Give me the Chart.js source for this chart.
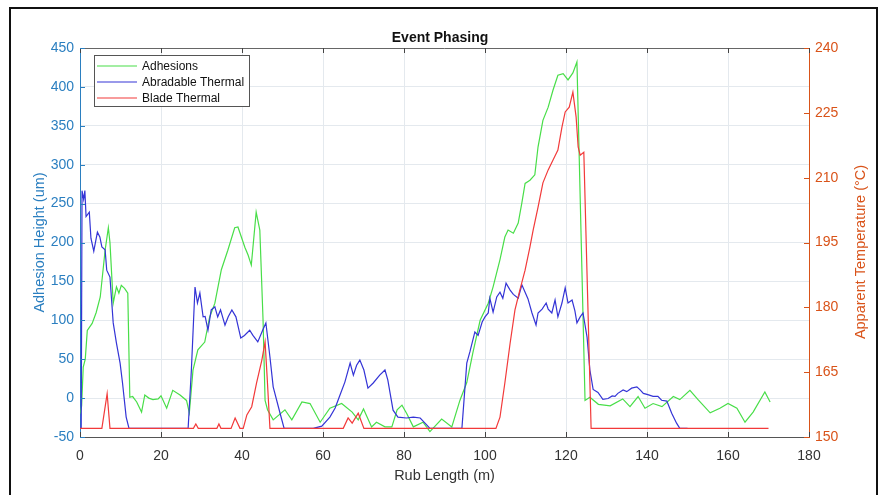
<!DOCTYPE html>
<html>
<head>
<meta charset="utf-8">
<script src="https://cdn.jsdelivr.net/npm/chart.js@4.4.1/dist/chart.umd.min.js"></script>
<style>
  body { margin: 0; background: #fff; }
  #wrap { position: relative; width: 880px; height: 495px; overflow: hidden; }
  #frame { position: absolute; left: 9px; top: 7px; width: 869px; height: 520px;
           border: 2px solid #111; box-sizing: border-box; pointer-events: none; }
</style>
</head>
<body>
<div id="wrap">
  <canvas id="grafico"></canvas>
  <div id="frame"></div>
</div>
<script>
// Datos
// Adhesions (um, eje izquierdo)
const adhX = [0, 0.4, 0.8, 1.3, 1.8, 3, 4, 5, 6.2, 7, 7.4, 8.2, 9, 9.6, 10.2, 11, 11.8, 12.3, 13, 14,
  15.2, 16, 17, 18, 19.3, 20, 21.4, 22.9, 24.7, 26.3, 27, 27.9, 29.1, 30.8, 32, 33.3, 34.9, 36.5, 38.2, 39,
  40.7, 41.5, 42.3, 43.5, 44.4, 45.2, 45.7, 46.3, 47.7, 50.6, 52.3, 54.8, 56.8, 59.3, 61.7, 64.6, 67.2, 68.7, 70, 72,
  73.2, 75.3, 77, 78.3, 79.5, 80.7, 82.3, 84.7, 86.4, 89.3, 91.8, 93.8, 95.5, 97, 98.8, 100.8, 102, 103.7, 104.9, 105.7,
  107, 108.2, 109.1, 109.9, 111.1, 112.3, 113.1, 114.3, 115.6, 116.8, 118, 119.3, 120.5, 121.7, 122.7, 124.7, 125.9, 128, 130.9, 134,
  135.8, 137.8, 139.5, 141.5, 143.7, 146.5, 148.1, 150.6, 152.6, 155.6, 158, 160, 162.2, 164.2, 166.2, 169.1, 170.4];
const adhY = [-20, -10, 40, 50, 87, 96, 110, 130, 190, 219, 200, 122, 143, 135, 145, 141, 135, 1, 2, -5,
  -18, 4, 0, -2, -1, 3, -13, 10, 4, -3, -19, 36, 62, 72, 104, 122, 165, 190, 219, 220,
  194, 184, 171, 239, 216, 100, -3, -15, -28, -15, -28, -5, -7, -31, -13, -7, -18, -28, -14, -37,
  -31, -37, -37, -15, -9, -20, -37, -31, -43, -27, -37, -3, 20, 58, 100, 122, 143, 178, 207, 216,
  212, 225, 251, 276, 280, 287, 323, 357, 374, 396, 415, 417, 409, 418, 432, -3, 1, -8, -10, -1,
  -11, 2, -13, -7, -11, 2, -2, 10, -2, -19, -13, -7, -13, -31, -18, 8, -5];

// Abradable Thermal (°C, eje derecho)
const abrX = [0, 0.3, 0.5, 0.9, 1.2, 1.5, 2.3, 2.7, 3.4, 4.3, 4.9, 5.4, 6.2, 6.6, 7.4, 8.2, 9, 9.9, 10.5, 11.4,
  12.1, 26.7, 27.5, 28.4, 29, 29.6, 30.4, 30.9, 31.6, 32.4, 33.3, 34, 34.7, 35.8, 36.6, 37.5, 38.5, 39.7, 40.6, 41.9,
  42.7, 43.9, 45.1, 45.9, 46.9, 47.7, 49.4, 50.4, 57.6, 59.7, 61.7, 63, 64.2, 65.4, 66.7, 67.5, 68.3, 69.1, 70.1, 71.1,
  72.4, 74, 75.3, 76, 77.3, 78.5, 80.6, 82.3, 84, 85.6, 86.4, 94.3, 95.5, 96.3, 97.5, 98.3, 99.3, 100, 100.8, 101.2,
  102, 102.9, 103.7, 104.4, 105.2, 106.2, 107, 108.2, 109.1, 109.9, 110.6, 111.6, 112.6, 113.1, 114.1, 115.1, 115.6, 116.5, 117.3, 118,
  119, 119.8, 120.5, 121.5, 122.2, 122.7, 123.5, 124.2, 125.2, 125.9, 126.7, 127.9, 129.1, 130.4, 131.4, 132.1, 132.8, 134.1, 135, 136.2,
  137.5, 138.3, 139.1, 140.2, 141.5, 142.7, 143.6, 144.9, 146.1, 147.3, 148.1, 150];
const abrY = [152, 152, 207, 205, 207, 201, 202, 196, 193, 197.4, 196.3, 194, 193.3, 188.6, 187, 176.4, 171.7, 167.1, 162.5, 154.6,
  152, 152, 165.5, 184.7, 181, 183.3, 177.8, 177.9, 174.7, 179.4, 180.1, 177.8, 179.4, 175.9, 177.8, 179.4, 177.8, 172.9, 173.5, 174.7,
  173.5, 172, 174.7, 176.4, 168.5, 161.6, 155.5, 152, 152, 152.5, 154.6, 156.7, 159.7, 162.7, 167.1, 164.3, 166.6, 167.8, 165.5, 161.3,
  162.5, 164.3, 165.5, 163.2, 156.2, 154.6, 154.4, 154.6, 154.4, 152.8, 152, 152, 167.1, 169.8, 174.3, 173.5, 176.6, 177.8, 178.7, 182.1,
  178.9, 182.4, 183.5, 182.1, 185.6, 184, 183, 182.1, 185.2, 183.5, 182, 178.7, 175.9, 178.7, 179.6, 181, 179.6, 178.7, 181.7, 177.8,
  181, 184.5, 181, 181.7, 179.2, 176.4, 177.8, 178.7, 173.1, 165.5, 161, 160.3, 158.7, 158.9, 159.5, 159.4, 160.1, 160.9, 160.5, 161.3,
  161.6, 160.9, 160.1, 159.8, 159.4, 159.4, 158.5, 158.3, 155.5, 153.2, 152, 152];

// Blade Thermal (°C, eje derecho)
const bldX = [0, 5.4, 6.7, 7.4, 28, 28.6, 29.2, 33.8, 34.3, 34.8, 37.3, 38.3, 39.5, 40.3, 41.2, 42.4, 43.6, 44.9, 45.7, 46.2,
  46.9, 65, 66.2, 67.2, 68.7, 70.1, 102.7, 103.7, 104.9, 106.2, 107.4, 108.6, 109.9, 111.1, 111.9, 113.1, 114.3, 115.6, 116.8, 118,
  119, 119.8, 120.8, 121.7, 122.5, 123, 123.5, 124.4, 126.2, 170];
const bldY = [152, 152, 160, 152, 152, 153, 152, 152, 153, 152, 152, 154.4, 152, 152, 155.1, 157, 162.5, 167.8, 172, 164,
  152, 152, 154.4, 153.2, 155.5, 152, 152, 154.6, 162.5, 171.7, 179.4, 184, 188.6, 194, 197.9, 203.2, 208.8, 211.8, 214.1, 216.4,
  221.7, 225.2, 226.3, 229.8, 224, 217.1, 215.2, 215.9, 152, 152];

// Ejes
const xTicks = [0, 20, 40, 60, 80, 100, 120, 140, 160, 180];
const leftTicks = [-50, 0, 50, 100, 150, 200, 250, 300, 350, 400, 450];
const rightTicks = [150, 165, 180, 195, 210, 225, 240];

const colorIzq = '#2B7FC0';
const colorDer = '#D95319';
const fuente = '"Liberation Sans", Arial, Helvetica, sans-serif';

function puntos(xs, ys) {
  return xs.map((x, i) => ({ x: x, y: ys[i] }));
}

// Plugin: marco superior, marcas interiores, leyenda y titulo derecho
const extras = {
  id: 'extras',
  afterDraw(chart) {
    const ctx = chart.ctx;
    const a = chart.chartArea;
    const sx = chart.scales.x, sy = chart.scales.y, sy1 = chart.scales.y1;
    ctx.save();
    // linea superior
    ctx.strokeStyle = '#666';
    ctx.lineWidth = 1;
    ctx.beginPath();
    ctx.moveTo(a.left, a.top + 0.5);
    ctx.lineTo(a.right, a.top + 0.5);
    ctx.stroke();
    // marcas hacia dentro
    ctx.strokeStyle = '#444';
    xTicks.forEach(t => {
      const px = Math.round(sx.getPixelForValue(t)) + 0.5;
      ctx.beginPath();
      ctx.moveTo(px, a.bottom); ctx.lineTo(px, a.bottom - 5);
      ctx.moveTo(px, a.top); ctx.lineTo(px, a.top + 5);
      ctx.stroke();
    });
    ctx.strokeStyle = colorIzq;
    leftTicks.forEach(t => {
      const py = Math.round(sy.getPixelForValue(t)) + 0.5;
      ctx.beginPath(); ctx.moveTo(a.left, py); ctx.lineTo(a.left + 5, py); ctx.stroke();
    });
    ctx.strokeStyle = colorDer;
    rightTicks.forEach(t => {
      const py = Math.round(sy1.getPixelForValue(t)) + 0.5;
      ctx.beginPath(); ctx.moveTo(a.right, py); ctx.lineTo(a.right - 5, py); ctx.stroke();
    });
    // titulo eje derecho
    ctx.fillStyle = colorDer;
    ctx.font = '14.5px ' + fuente;
    ctx.textAlign = 'center';
    ctx.textBaseline = 'middle';
    ctx.translate(861, 252);
    ctx.rotate(-Math.PI / 2);
    ctx.fillText('Apparent Temperature (°C)', 0, 0);
    ctx.restore();

    // leyenda
    ctx.save();
    const lx = 94.5, ly = 55.5, lw = 155, lh = 51;
    ctx.fillStyle = '#fff';
    ctx.fillRect(lx, ly, lw, lh);
    ctx.strokeStyle = '#555';
    ctx.lineWidth = 1;
    ctx.strokeRect(lx, ly, lw, lh);
    ctx.font = '12px ' + fuente;
    ctx.textAlign = 'left';
    ctx.textBaseline = 'middle';
    chart.data.datasets.forEach((ds, i) => {
      const yy = 66 + i * 16;
      ctx.strokeStyle = ds.borderColor;
      ctx.lineWidth = 1.2;
      ctx.beginPath(); ctx.moveTo(97, yy); ctx.lineTo(137, yy); ctx.stroke();
      ctx.fillStyle = '#111';
      ctx.fillText(ds.label, 142, yy + 0.5);
    });
    ctx.restore();
  }
};

const ctx = document.getElementById('grafico').getContext('2d');
const chart = new Chart(ctx, {
  type: 'line',
  data: {
    datasets: [
      { label: 'Adhesions', data: puntos(adhX, adhY), yAxisID: 'y',
        borderColor: 'rgb(72,222,72)', borderWidth: 1.2, pointRadius: 0, tension: 0, order: 2 },
      { label: 'Abradable Thermal', data: puntos(abrX, abrY), yAxisID: 'y1',
        borderColor: 'rgb(52,52,214)', borderWidth: 1.2, pointRadius: 0, tension: 0, order: 1 },
      { label: 'Blade Thermal', data: puntos(bldX, bldY), yAxisID: 'y1',
        borderColor: 'rgb(242,58,58)', borderWidth: 1.2, pointRadius: 0, tension: 0, order: 0 }
    ]
  },
  options: {
    responsive: true,
    maintainAspectRatio: false,
    animation: false,
    layout: { padding: 0 },
    plugins: {
      legend: { display: false },
      tooltip: { enabled: false },
      title: {
        display: true,
        text: 'Event Phasing',
        color: '#111',
        font: { family: fuente, size: 14, weight: 'bold' },
        padding: { top: 29.6, bottom: 1.6 }
      }
    },
    scales: {
      x: {
        type: 'linear',
        min: 0, max: 180,
        afterBuildTicks: s => { s.ticks = xTicks.map(v => ({ value: v })); },
        afterFit: s => { s.height = 58; },
        grid: { color: '#e4e9ee', drawTicks: false },
        border: { color: '#555' },
        ticks: { color: '#333', padding: 11, font: { family: fuente, size: 14 } },
        title: { display: true, text: 'Rub Length (m)', color: '#333',
                 font: { family: fuente, size: 14.5 }, padding: { top: 0, bottom: 10 } }
      },
      y: {
        position: 'left',
        min: -50, max: 450,
        afterBuildTicks: s => { s.ticks = leftTicks.map(v => ({ value: v })); },
        afterFit: s => { s.width = 80; },
        grid: { color: '#e4e9ee', drawTicks: false },
        border: { color: colorIzq },
        ticks: { color: colorIzq, padding: 6, font: { family: fuente, size: 14 } },
        title: { display: true, text: 'Adhesion Height (um)', color: colorIzq,
                 font: { family: fuente, size: 14.5 }, padding: { top: 31, bottom: 0 } }
      },
      y1: {
        position: 'right',
        min: 150, max: 240,
        afterBuildTicks: s => { s.ticks = rightTicks.map(v => ({ value: v })); },
        afterFit: s => { s.width = 71; },
        grid: { display: false, drawTicks: false },
        border: { color: colorDer },
        ticks: { color: colorDer, padding: 6, font: { family: fuente, size: 14 } }
      }
    }
  },
  plugins: [extras]
});
</script>
</body>
</html>
